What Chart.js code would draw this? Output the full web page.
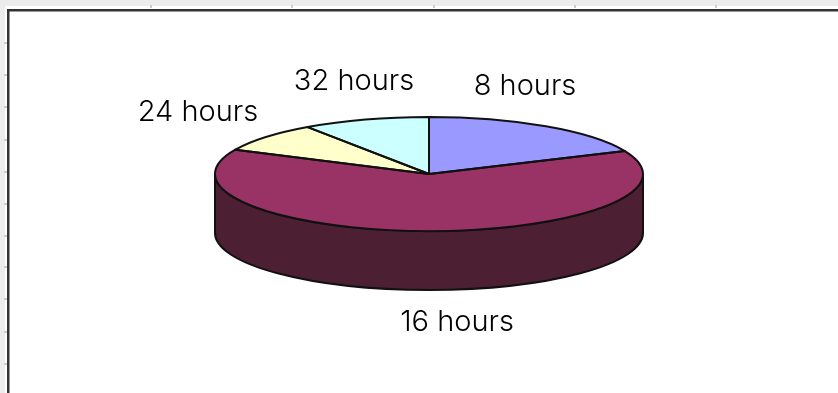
<!DOCTYPE html>
<html>
<head>
<meta charset="utf-8">
<style>
  html, body { margin: 0; padding: 0; background: #fff; overflow: hidden; }
  canvas { display: block; }
</style>
<script src="https://cdn.jsdelivr.net/npm/chart.js@4/dist/chart.umd.min.js"></script>
</head>
<body>
<canvas id="hours-chart" width="838" height="393"></canvas>
<script>
const categories = ['8 hours', '16 hours', '24 hours', '32 hours'];
const shares = [18.4, 63.6, 8.4, 9.6];
const sliceColors = ['#9999ff', '#993366', '#ffffcc', '#ccffff'];

// flattened pie on screen
const disc = { rx: 214, ry: 57, depth: 59, wall: '#4d1f33', edge: '#111', edgeWidth: 2 };
const labelFont = '300 29px Inter, sans-serif';
const labelCentres = [[525, 86], [457, 322], [198, 112], [354, 81]];

// grey ruler marks around the sheet
const topTicks = [150, 291, 433, 574, 715];
const leftTicks = [42, 74, 106, 139, 171, 203, 235, 266, 298, 331, 363];

const sheetFrame = {
  id: 'sheetFrame',
  beforeDraw(chart) {
    const c = chart.ctx;
    c.save();
    c.fillStyle = '#ececec';
    c.fillRect(0, 0, 838, 6);
    c.fillRect(0, 0, 5, 393);
    c.fillStyle = '#ccc';
    for (const x of topTicks) c.fillRect(x, 5, 2, 3);
    for (const y of leftTicks) c.fillRect(4, y, 3, 2);
    c.fillStyle = '#333';
    c.fillRect(7, 9, 831, 2.5);
    c.fillRect(7, 9, 2.5, 384);
    c.restore();
  }
};

const tiltedPie = {
  id: 'tiltedPie',
  beforeDatasetsDraw(chart) {
    const c = chart.ctx;
    const arcs = chart.getDatasetMeta(0).data;
    const { x, y, outerRadius } = arcs[0];

    // side wall of the slices facing the viewer
    c.save();
    c.lineWidth = disc.edgeWidth;
    c.strokeStyle = disc.edge;
    arcs.forEach(function(arc) {
      const from = Math.max(arc.startAngle, 0);
      const to = Math.min(arc.endAngle, Math.PI);
      if (to <= from) return;
      c.beginPath();
      c.ellipse(x, y, disc.rx, disc.ry, 0, from, to);
      c.ellipse(x, y + disc.depth, disc.rx, disc.ry, 0, to, from, true);
      c.closePath();
      c.fillStyle = disc.wall;
      c.fill();
      c.stroke();
    });
    c.restore();

    // squash the library's arcs into the top face
    c.save();
    c.translate(x, y);
    c.scale(disc.rx / outerRadius, disc.ry / outerRadius);
    c.translate(-x, -y);
  },
  afterDatasetsDraw(chart) {
    const c = chart.ctx;
    c.restore();

    // outlines go on after the scale is gone so the line stays even
    c.save();
    c.lineWidth = disc.edgeWidth;
    c.lineJoin = 'round';
    c.strokeStyle = disc.edge;
    chart.getDatasetMeta(0).data.forEach(function(arc) {
      c.beginPath();
      c.moveTo(arc.x, arc.y);
      c.ellipse(arc.x, arc.y, disc.rx, disc.ry, 0, arc.startAngle, arc.endAngle);
      c.closePath();
      c.stroke();
    });

    c.fillStyle = '#000';
    c.font = labelFont;
    c.textAlign = 'center';
    c.textBaseline = 'middle';
    chart.data.labels.forEach(function(label, i) {
      c.fillText(label, labelCentres[i][0], labelCentres[i][1]);
    });
    c.restore();
  }
};

new Chart(document.getElementById('hours-chart'), {
  type: 'pie',
  data: {
    labels: categories,
    datasets: [{
      data: shares,
      backgroundColor: sliceColors,
      borderWidth: 0,
      clip: false
    }]
  },
  options: {
    responsive: false,
    animation: false,
    layout: { padding: { left: 20, right: 0, top: 0, bottom: 45 } },
    plugins: {
      legend: { display: false },
      tooltip: { enabled: false }
    }
  },
  plugins: [sheetFrame, tiltedPie]
});
</script>
</body>
</html>
